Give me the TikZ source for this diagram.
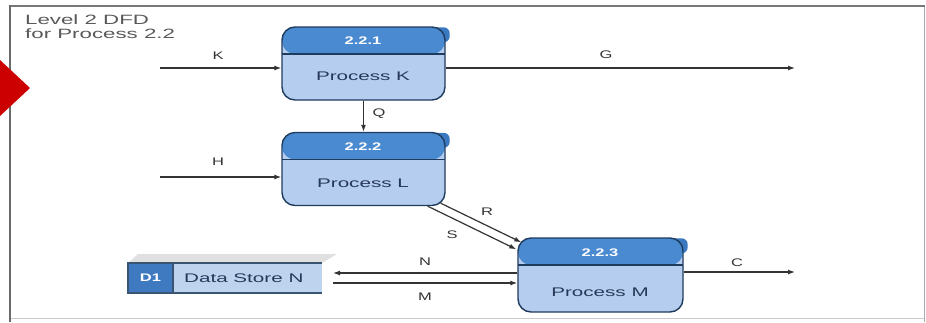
\documentclass[tikz,border=0pt]{standalone}
\usepackage{fontspec}
\newfontfamily\dfdfont{Liberation Sans}[FakeStretch=1.5]
\newfontfamily\dfdwide{Liberation Sans}[FakeStretch=1.65]
\usetikzlibrary{arrows.meta,backgrounds}

\definecolor{headblue}{HTML}{4A8AD0}
\definecolor{bodyblue}{HTML}{B5CDEE}
\definecolor{boxline}{HTML}{1F3B5E}
\definecolor{shadeblue}{HTML}{3A78C0}
\definecolor{labelnavy}{HTML}{26395A}
\definecolor{flowgray}{HTML}{333333}
\definecolor{framegray}{HTML}{777777}
\definecolor{storedark}{HTML}{3F79C0}
\definecolor{storelight}{HTML}{BDD3EE}
\definecolor{storeline}{HTML}{3A5572}
\definecolor{pointerred}{HTML}{CC0000}

\tikzset{
  process/.style={draw=boxline, line width=1.4pt, fill=bodyblue,
    rounded corners=13pt, minimum width=163pt, minimum height=73pt, inner sep=0pt,
    path picture={
      \fill[headblue] (path picture bounding box.north west)
        rectangle ([yshift=-27pt]path picture bounding box.north east);
      \draw[boxline, line width=1.1pt]
        ([yshift=-27pt]path picture bounding box.north west) --
        ([yshift=-27pt]path picture bounding box.north east);}},
  idtext/.style={text=white, font=\dfdfont\bfseries\fontsize{11}{12}\selectfont, inner sep=0pt},
  proctext/.style={text=labelnavy, font=\dfdwide\fontsize{12.5}{14}\selectfont, inner sep=0pt},
  flowlabel/.style={text=flowgray, font=\dfdfont\fontsize{11}{12}\selectfont, inner sep=0pt},
  flow/.style={draw=flowgray, line width=1.2pt, -{Latex[length=7pt,width=5pt]}},
  bump/.style={fill=shadeblue, rounded corners=6pt}
}

\begin{document}
\begin{tikzpicture}[x=1pt,y=-1pt]
\useasboundingbox (0,0) rectangle (926,322);

% page frame
\draw[framegray!40, line width=0.8pt] (10,318) -- (924,318);
\draw[framegray!60, line width=0.8pt] (924,6) -- (924,322);
\draw[framegray, line width=2.5pt] (10,6) -- (925,6);
\draw[framegray!90!black, line width=2.8pt] (10,5) -- (10,322);

% red pointer
\fill[pointerred] (0,60) -- (30,88) -- (0,116) -- cycle;

% title
\node[anchor=north west, text=black!65, align=left, inner sep=0pt,
      font=\dfdwide\fontsize{13.5}{13.5}\selectfont] (title) at (25,15)
  {Level 2 DFD\\for Process 2.2};

% processes
\node[process] (K) at (363.5,63.5) {};
\node[process] (L) at (363.5,169) {};
\node[process, minimum width=165pt, minimum height=74pt] (M) at (600.5,275) {};

% small raised tab behind each process corner
\begin{scope}[on background layer]
  \fill[bump] ([xshift=-14pt,yshift=-1pt]K.north east) rectangle ([xshift=4pt,yshift=-16pt]K.north east);
  \fill[bump] ([xshift=-14pt,yshift=-1pt]L.north east) rectangle ([xshift=4pt,yshift=-16pt]L.north east);
  \fill[bump] ([xshift=-14pt,yshift=-1pt]M.north east) rectangle ([xshift=4pt,yshift=-16pt]M.north east);
\end{scope}

\node[idtext] (Kid) at (363,41) {2.2.1};
\node[proctext] (Ktx) at (363,76) {Process K};
\node[idtext] (Lid) at (363,147) {2.2.2};
\node[proctext] (Ltx) at (363,183) {Process L};
\node[idtext] (Mid) at (600,253) {2.2.3};
\node[proctext] (Mtx) at (600,292) {Process M};

% data store D1
\fill[black!12] (128,263) -- (138,254) -- (337,254) -- (322,263) -- cycle;
\fill[storelight] (173,263) rectangle (322,293);
\node[draw=storeline, line width=1.2pt, fill=storedark, minimum width=45pt,
      minimum height=30pt, inner sep=0pt, text=white,
      font=\dfdfont\bfseries\fontsize{11}{12}\selectfont] (D1) at (150.5,278) {D1};
\draw[storeline, line width=1.6pt] (173,263) -- (322,263);
\draw[storeline, line width=1.6pt] (173,293) -- (322,293);
\node[proctext, anchor=west] (store) at (184,278.5) {Data Store N};

% external ends of the flows
\coordinate (kin) at (160,68);
\coordinate (gout) at (795,68);
\coordinate (hin) at (160,177);
\coordinate (cout) at (795,272);
\coordinate (nend) at (333,273);
\coordinate (mstart) at (333,283);

% data flows
\draw[flow] (kin) -- (kin -| K.west);
\draw[flow] (gout -| K.east) -- (gout);
\draw[flow] (K.south) -- (L.north);
\draw[flow] (hin) -- (hin -| L.west);
\draw[flow] ([xshift=-5pt,yshift=3pt]L.south east) -- ([xshift=4pt,yshift=-5pt]M.north west);
\draw[flow] ([xshift=-18pt]L.south east) -- ([xshift=-1pt,yshift=-12pt]M.north west);
\draw[flow] (nend -| M.west) -- (nend);
\draw[flow] (mstart) -- (mstart -| M.west);
\draw[flow] (cout -| M.east) -- (cout);

% flow labels
\node[flowlabel] (lK) at (218,56) {K};
\node[flowlabel] (lG) at (606,55) {G};
\node[flowlabel] (lQ) at (379,114) {Q};
\node[flowlabel] (lH) at (218,162) {H};
\node[flowlabel] (lR) at (487,212) {R};
\node[flowlabel] (lS) at (452,235) {S};
\node[flowlabel] (lN) at (425,262) {N};
\node[flowlabel] (lM) at (425,297) {M};
\node[flowlabel] (lC) at (737,263) {C};
\end{tikzpicture}
\end{document}
